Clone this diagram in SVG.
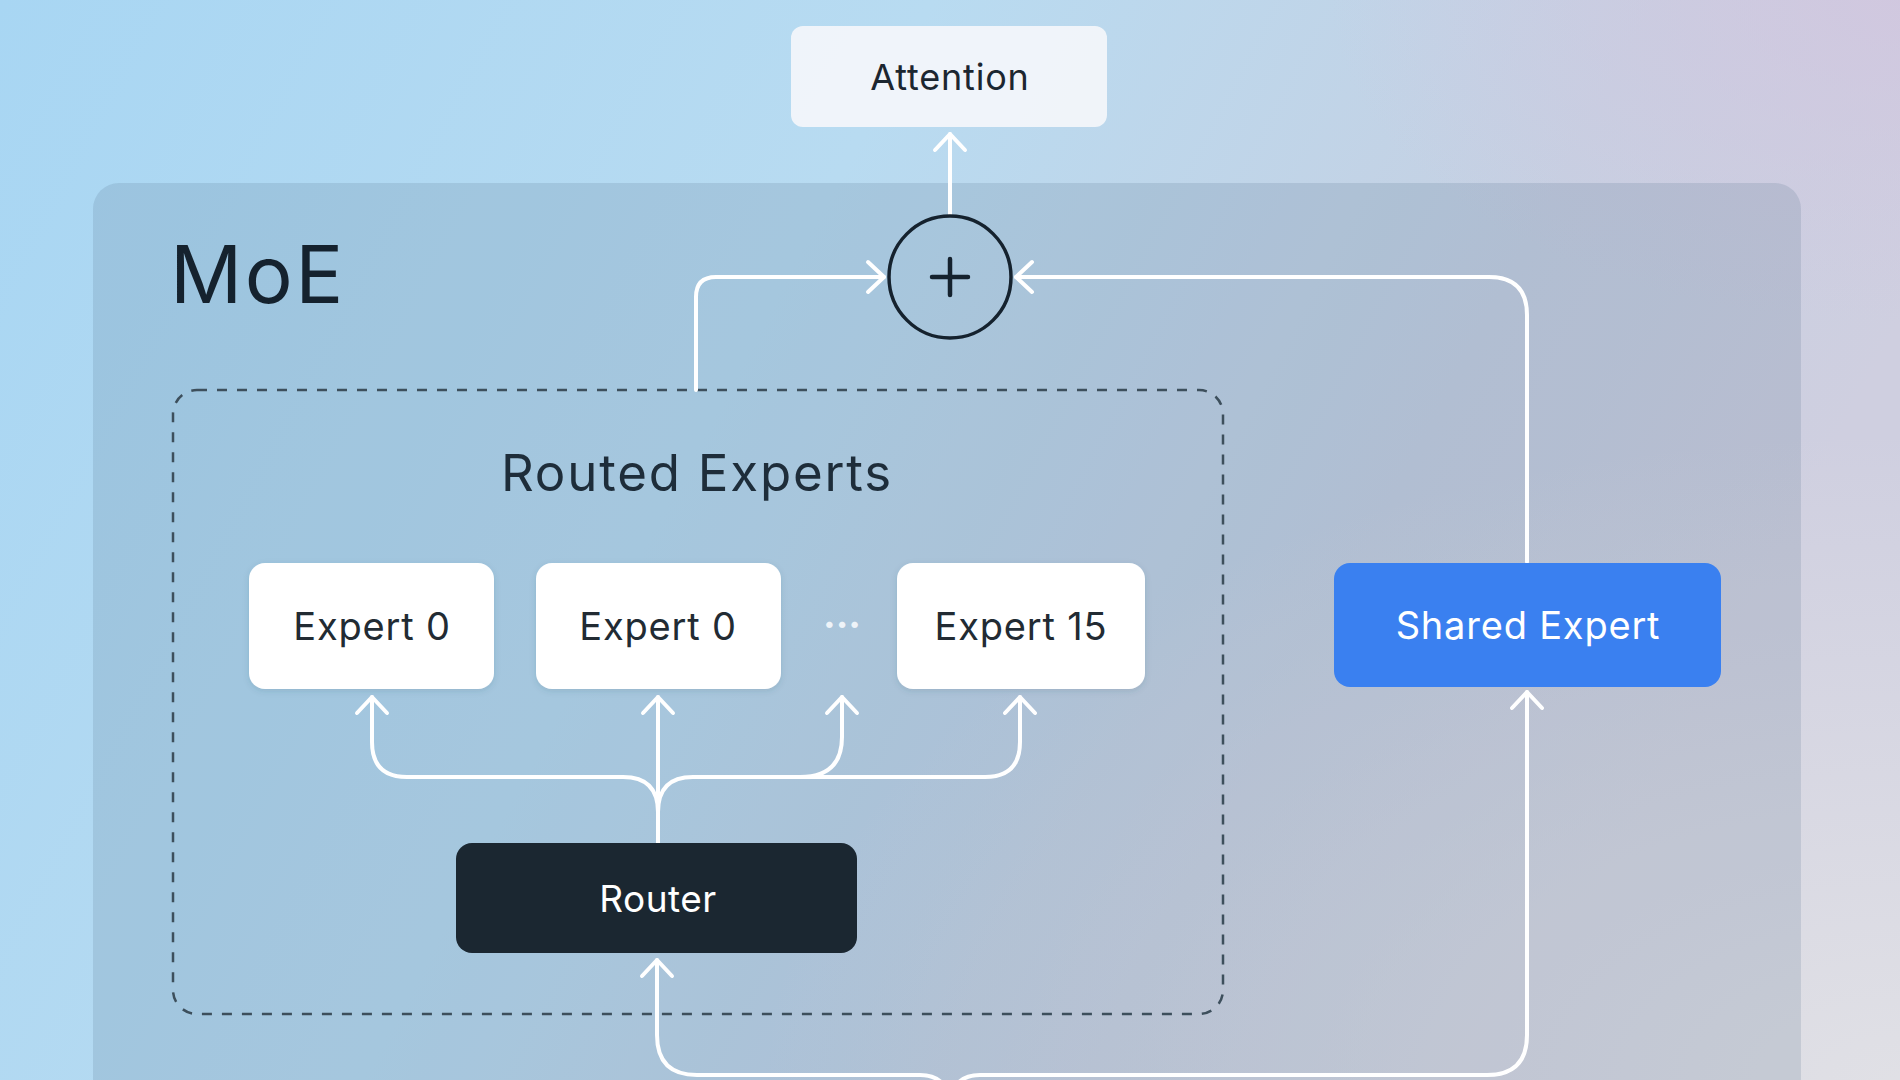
<svg xmlns="http://www.w3.org/2000/svg" width="1900" height="1080" viewBox="0 0 1900 1080">
<defs>
<linearGradient id="bg" x1="0" y1="0" x2="1" y2="0.3">
<stop offset="0" stop-color="#a8d6f3"/>
<stop offset="0.45" stop-color="#b8dbf1"/>
<stop offset="0.8" stop-color="#c6d0e2"/>
<stop offset="1" stop-color="#cfcfe0"/>
</linearGradient>
<radialGradient id="br" cx="1" cy="1" r="0.6">
<stop offset="0" stop-color="#e2e2e6" stop-opacity="0.9"/>
<stop offset="1" stop-color="#e2e2e6" stop-opacity="0"/>
</radialGradient>
<radialGradient id="tr" cx="1" cy="0" r="0.3">
<stop offset="0" stop-color="#d2c6df" stop-opacity="0.8"/>
<stop offset="1" stop-color="#d2c6df" stop-opacity="0"/>
</radialGradient>
<marker id="ah" markerUnits="userSpaceOnUse" viewBox="-20 -20 40 40" markerWidth="40" markerHeight="40" refX="0" refY="0" orient="auto" overflow="visible">
<path d="M -16 -15 L 0 0 L -16 15" fill="none" stroke="#ffffff" stroke-width="4" stroke-linecap="round" stroke-linejoin="round"/>
</marker>
<filter id="sh" x="-10%" y="-10%" width="120%" height="130%">
<feDropShadow dx="0" dy="2" stdDeviation="3" flood-color="#2a4a60" flood-opacity="0.15"/>
</filter>
</defs>
<style>
.lbl{font-family:Inter,"Liberation Sans",sans-serif;text-anchor:middle;}
.conn{fill:none;stroke:#ffffff;stroke-width:4;stroke-linecap:round;stroke-linejoin:round;}
</style>
<rect x="0" y="0" width="1900" height="1080" fill="url(#bg)"/>
<rect x="0" y="0" width="1900" height="1080" fill="url(#tr)"/>
<rect x="0" y="0" width="1900" height="1080" fill="url(#br)"/>

<g id="moe">
<rect x="93" y="183" width="1708" height="940" rx="26" fill="#55708a" fill-opacity="0.18"/>
<text x="170" y="303" font-family="Inter,'Liberation Sans',sans-serif" font-size="80" fill="#15222e" letter-spacing="2.5">MoE</text>
</g>

<g id="routed-experts">
<rect x="173" y="390" width="1050" height="624" rx="24" fill="none" stroke="#3d4f5c" stroke-width="2.5" stroke-dasharray="10 10"/>
<text class="lbl" x="697" y="491" font-size="51" fill="#1e2d3a" letter-spacing="1.8">Routed Experts</text>
</g>

<g id="connectors">
<path class="conn" d="M 950 215 V 134" marker-end="url(#ah)"/>
<path class="conn" d="M 696 390 V 297 Q 696 277 716 277 H 884" marker-end="url(#ah)"/>
<path class="conn" d="M 1527 562 V 315 Q 1527 277 1489 277 H 1016" marker-end="url(#ah)"/>
<path class="conn" d="M 658 843 V 697" marker-end="url(#ah)"/>
<path class="conn" d="M 658 843 V 812 Q 658 777 623 777 H 407 Q 372 777 372 742 V 697" marker-end="url(#ah)"/>
<path class="conn" d="M 658 843 V 812 Q 658 777 693 777 H 985 Q 1020 777 1020 742 V 697" marker-end="url(#ah)"/>
<path class="conn" d="M 800 777 Q 842 777 842 737 V 697" marker-end="url(#ah)"/>
<path class="conn" d="M 950 1110 Q 950 1075 920 1075 H 697 Q 657 1075 657 1035 V 960" marker-end="url(#ah)"/>
<path class="conn" d="M 950 1110 Q 950 1075 980 1075 H 1487 Q 1527 1075 1527 1035 V 692" marker-end="url(#ah)"/>
</g>

<g id="attention">
<rect x="791" y="26" width="316" height="101" rx="12" fill="#f2f6fa" fill-opacity="0.95"/>
<text class="lbl" x="950" y="90" font-size="36" fill="#1c2630" letter-spacing="0.8">Attention</text>
</g>

<g id="plus">
<circle cx="950" cy="277" r="61" fill="none" stroke="#15222e" stroke-width="3.5"/>
<path d="M 932 277 H 968 M 950 259 V 295" stroke="#15222e" stroke-width="4.5" stroke-linecap="round"/>
</g>

<g id="expert-0a">
<rect x="249" y="563" width="245" height="126" rx="16" fill="#ffffff" filter="url(#sh)"/>
<text class="lbl" x="372" y="640" font-size="38" fill="#222b33" letter-spacing="0.8">Expert 0</text>
</g>
<g id="expert-0b">
<rect x="536" y="563" width="245" height="126" rx="16" fill="#ffffff" filter="url(#sh)"/>
<text class="lbl" x="658" y="640" font-size="38" fill="#222b33" letter-spacing="0.8">Expert 0</text>
</g>
<g id="dots">
<text class="lbl" x="842" y="638" font-size="38" font-weight="bold" fill="#eef3f8">···</text>
</g>
<g id="expert-15">
<rect x="897" y="563" width="248" height="126" rx="16" fill="#ffffff" filter="url(#sh)"/>
<text class="lbl" x="1021" y="640" font-size="38" fill="#222b33" letter-spacing="0.8">Expert 15</text>
</g>

<g id="shared-expert">
<rect x="1334" y="563" width="387" height="124" rx="16" fill="#3a80f0"/>
<text class="lbl" x="1528" y="639" font-size="38" fill="#ffffff" letter-spacing="0.8">Shared Expert</text>
</g>

<g id="router">
<rect x="456" y="843" width="401" height="110" rx="16" fill="#1b2731"/>
<text class="lbl" x="658" y="912" font-size="37" fill="#ffffff" letter-spacing="0.5">Router</text>
</g>
</svg>
